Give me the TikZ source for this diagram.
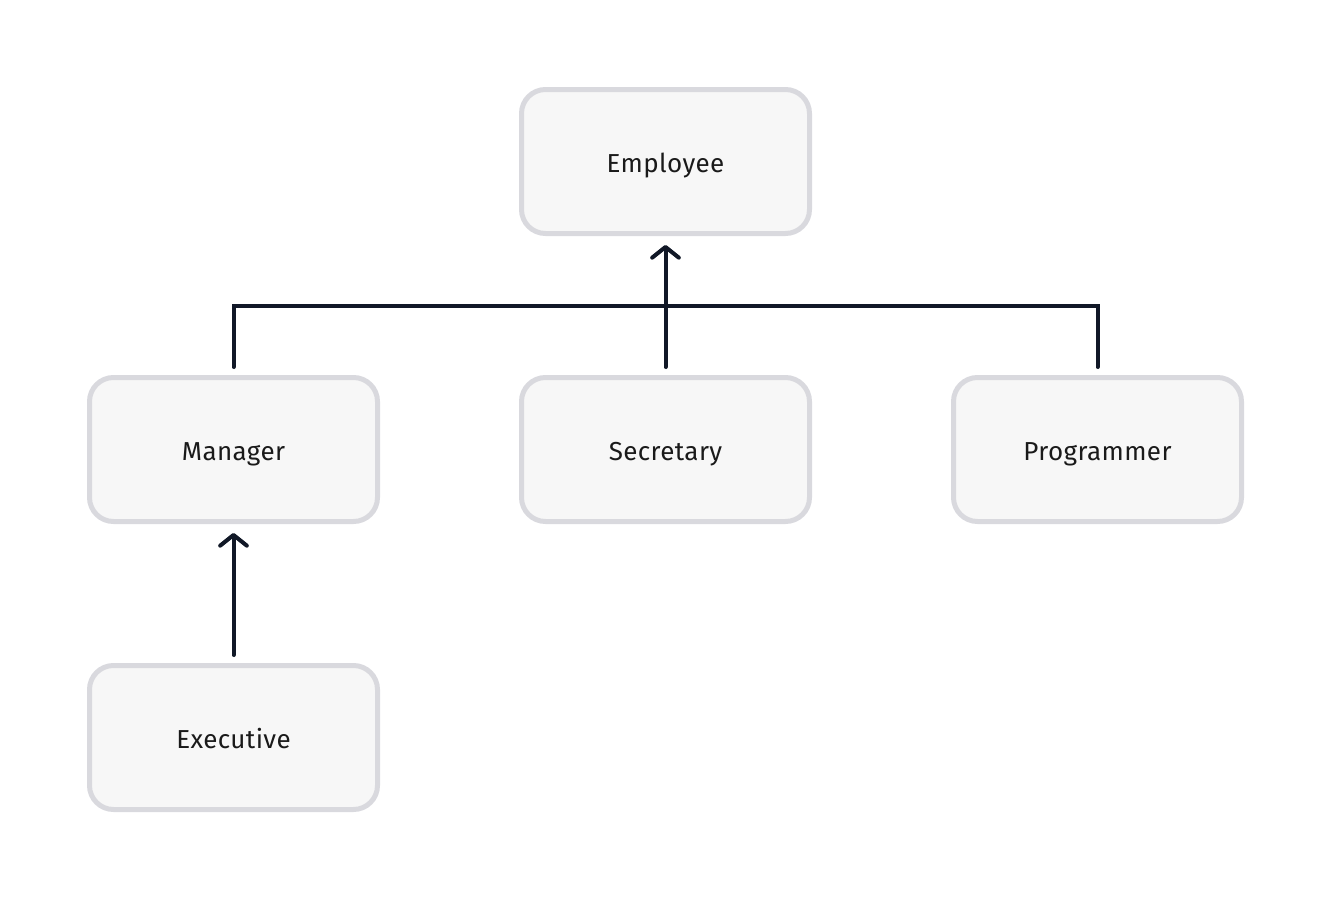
\documentclass[tikz,border=0pt]{standalone}
\usepackage{fontspec}
\setmainfont{Fira Sans}[LetterSpace=1.5]
\usetikzlibrary{arrows.meta,calc}
\definecolor{boxfill}{HTML}{F7F7F7}
\definecolor{boxline}{HTML}{D9D9DE}
\definecolor{ink}{HTML}{111827}
\definecolor{txt}{HTML}{1A1A1A}
\tikzset{
  cls/.style={draw=boxline, line width=3.75pt, fill=boxfill, rounded corners=18pt,
    minimum width=216pt, minimum height=108pt, inner sep=0pt,
    text height=16.2pt, text depth=0pt,
    font=\fontsize{19.5}{23}\selectfont, text=txt},
  conn/.style={draw=ink, line width=3pt, line cap=round},
  inh/.style={conn, -{Straight Barb[length=8pt,width=20pt,line cap=round,line join=round]}, shorten >=6.75pt, shorten <=6pt},
}
\begin{document}
\begin{tikzpicture}[x=0.75pt,y=-0.75pt]
\useasboundingbox (0,0) rectangle (1332,900);
\node[cls] (emp) at (665.5,161.5) {Employee};
\node[cls] (man) at (233.5,449.5) {Manager};
\node[cls] (sec) at (665.5,449.5) {Secretary};
\node[cls] (prg) at (1097.5,449.5) {Programmer};
\node[cls] (exe) at (233.5,737.5) {Executive};
\coordinate (j) at (emp.south |- 0,306);
\draw[inh] (sec.north) -- (emp.south);
\draw[conn, shorten <=6pt] (man.north) |- (j);
\draw[conn, shorten <=6pt] (prg.north) |- (j);
\draw[inh] (exe.north) -- (man.south);
\end{tikzpicture}
\end{document}
